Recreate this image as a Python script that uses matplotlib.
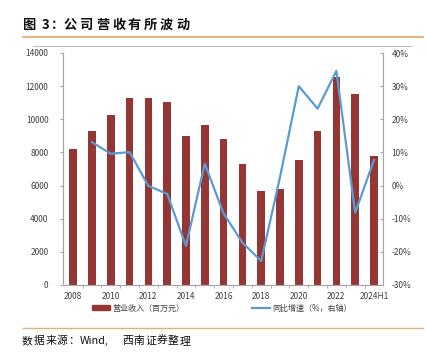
import matplotlib
matplotlib.use("Agg")
import matplotlib.pyplot as plt
from matplotlib.lines import Line2D
from matplotlib.patches import Patch

plt.rcParams['font.family'] = ['Noto Sans CJK SC', 'DejaVu Sans']

# data
years = ['2008', '2009', '2010', '2011', '2012', '2013', '2014', '2015', '2016',
         '2017', '2018', '2019', '2020', '2021', '2022', '2023', '2024H1']
revenue = [8200, 9300, 10250, 11300, 11280, 11020, 9000, 9640, 8830,
           7320, 5650, 5790, 7540, 9310, 12530, 11510, 7770]
growth = [None, 13.1, 9.6, 10.1, -0.1, -2.5, -18.2, 6.6, -8.4,
          -17.2, -22.8, 2.5, 30.0, 23.2, 34.6, -8.2, 7.7]

title_chars = ['图', '3', '：', '公', '司', '营', '收', '有', '所', '波', '动']
source_chars = ['数', '据', '来', '源', '：', 'Wind,', '西', '南', '证', '券', '整', '理']

bar_color = '#963634'
line_color = '#5B9BD5'
axis_color = '#A6A6A6'
txt_color = '#404040'

W, H = 427, 353
fig = plt.figure(figsize=(W/100, H/100), dpi=100)
ax = fig.add_axes([63/W, 1-285/H, 320/W, 232/H])
ax2 = ax.twinx()

x = list(range(len(years)))
ax.bar(x, revenue, width=0.41, color=bar_color, zorder=2)
gx = [i for i, g in zip(x, growth) if g is not None]
gy = [g for g in growth if g is not None]
ax2.plot(gx, gy, color=line_color, lw=1.6, zorder=3)

ax.set_xlim(-0.54, len(years) - 1 + 0.48)
ax.set_ylim(0, 14000)
ax.set_yticks(range(0, 14001, 2000))
ax2.set_ylim(-30, 40)
ax2.set_yticks(range(-30, 41, 10))
ax2.set_yticklabels([f'{v}%' for v in range(-30, 41, 10)])

ax.set_xticks(x[::2])
ax.set_xticklabels(years[::2])
ax.set_xticks([i + 0.5 for i in x[:-1]], minor=True)
ax.tick_params(axis='x', which='major', length=0, pad=5, labelsize=6, labelcolor=txt_color)
ax.tick_params(axis='x', which='minor', length=2.5, color=axis_color, direction='out')
ax.tick_params(axis='y', length=2.5, color=axis_color, labelsize=6, labelcolor=txt_color, pad=8)
ax2.tick_params(axis='y', length=2.5, color=axis_color, labelsize=6, labelcolor=txt_color,
                direction='in', pad=6)

for a in (ax, ax2):
    a.spines['top'].set_visible(False)
    for s in ('left', 'right', 'bottom'):
        a.spines[s].set_color(axis_color)
        a.spines[s].set_linewidth(0.8)

handles = [Patch(color=bar_color, label='营业收入（百万元）'),
           Line2D([0], [0], color=line_color, lw=1.6, label='同比增速（%，右轴）')]
leg = fig.legend(handles=handles, loc='center', bbox_to_anchor=(222/W, 1-308/H), ncol=2,
                 frameon=False, fontsize=5.8, handlelength=2.2, handleheight=0.6,
                 handletextpad=0.25, columnspacing=8.5)
for t in leg.get_texts():
    t.set_color(txt_color)

# title, letter-spaced like the original
title_x = [22, 42, 51, 64, 80, 96, 112, 128, 144, 160, 176]
for cx, ch in zip(title_x, title_chars):
    fig.text(cx/W, 1-25/H, ch, fontsize=9.5, fontweight='bold',
             va='center', ha='left', color='#111111')

fig.add_artist(Line2D([23/W, 423/W], [1-37/H, 1-37/H], color='#E1A564', lw=1.2))
fig.add_artist(Line2D([33/W, 411/W], [1-46/H, 1-46/H], color='#BFBFBF', lw=0.8))
fig.add_artist(Line2D([23/W, 423/W], [1-328/H, 1-328/H], color='#D9B27C', lw=1.0))

source_x = [22, 34, 46, 57, 68, 80, 122, 133, 145, 157, 168, 180]
for cx, ch in zip(source_x, source_chars):
    fig.text(cx/W, 1-341/H, ch, fontsize=7.8, style='italic',
             va='center', ha='left', color='#111111')

fig.savefig('out.png', dpi=100)
